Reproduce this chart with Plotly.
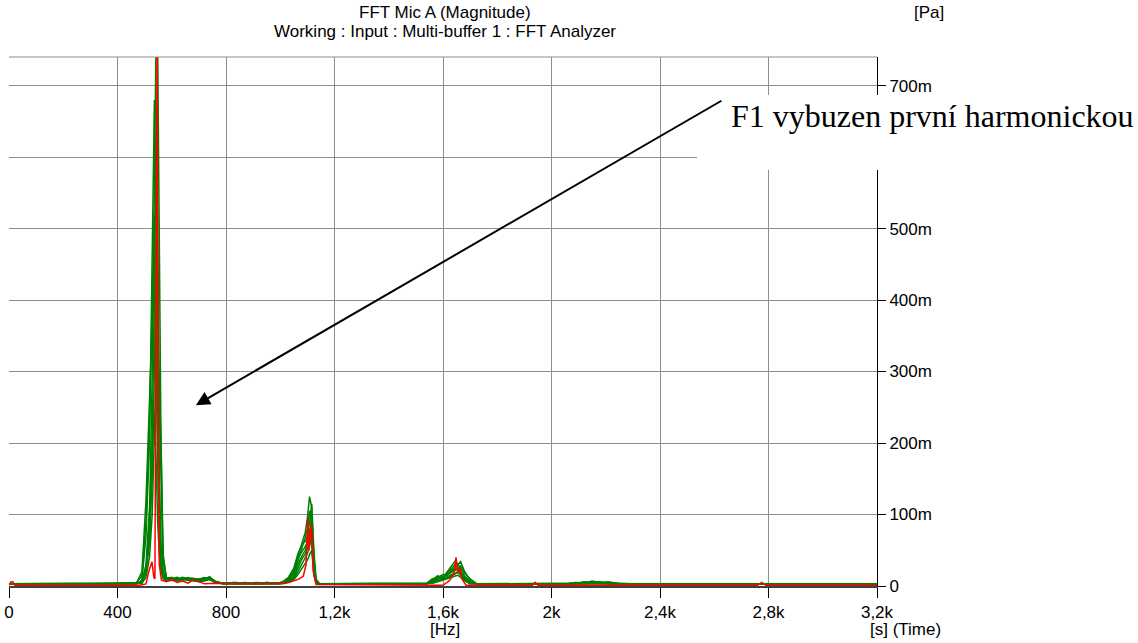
import plotly.graph_objects as go

# ---------------- data (magnitudes in mPa) ----------------
freq_green = [0, 300, 470, 490, 505, 518, 528, 536, 542, 548,
              554, 560, 568, 580, 600, 620, 640, 660, 680, 700,
              720, 740, 760, 790, 830, 870, 910, 950, 990, 1010,
              1030, 1050, 1065, 1080, 1092, 1100, 1108, 1116, 1124, 1132,
              1145, 1200, 1500, 1540, 1560, 1580, 1600, 1615, 1630, 1645,
              1655, 1665, 1680, 1700, 1725, 1800, 2060, 2090, 2120, 2150,
              2180, 2210, 2250, 2300, 2680, 2720, 2760, 2800, 2830, 3200]

green_1 = [3, 3, 3, 4, 20, 90, 300, 600, 760, 760,
           450, 220, 40, 12, 10, 9, 12, 10, 11, 9,
           12, 10, 6, 4, 5, 4, 3, 5, 4, 6,
           10, 22, 40, 60, 75, 95, 125, 110, 40, 8,
           3, 3, 3, 3, 8, 14, 12, 20, 28, 35,
           30, 34, 20, 8, 3, 3, 3, 5, 4, 7,
           5, 6, 3, 3, 3, 4, 3, 4, 3, 3]
green_2 = [3, 3, 3, 8, 70, 200, 440, 680, 560, 300,
           140, 60, 20, 10, 12, 8, 10, 9, 8, 7,
           10, 13, 5, 4, 3, 5, 3, 4, 5, 5,
           9, 18, 35, 52, 68, 80, 105, 90, 30, 6,
           3, 3, 3, 4, 10, 12, 16, 14, 22, 26,
           30, 25, 14, 6, 3, 3, 3, 4, 6, 5,
           6, 4, 3, 3, 3, 3, 4, 3, 3, 3]
green_3 = [3, 3, 3, 8, 25, 70, 200, 420, 600, 520,
           260, 160, 35, 12, 9, 11, 9, 12, 10, 8,
           9, 11, 7, 3, 4, 3, 4, 3, 4, 6,
           12, 25, 45, 58, 62, 70, 90, 115, 50, 10,
           3, 3, 3, 3, 6, 10, 13, 18, 24, 30,
           25, 28, 18, 10, 3, 3, 3, 3, 5, 6,
           4, 5, 4, 3, 3, 3, 3, 3, 3, 3]
green_4 = [3, 3, 5, 14, 90, 230, 400, 520, 430, 200,
           90, 40, 15, 9, 10, 12, 8, 10, 9, 10,
           11, 9, 6, 4, 4, 3, 5, 4, 3, 4,
           8, 20, 38, 48, 55, 62, 80, 70, 22, 5,
           3, 3, 3, 3, 8, 14, 10, 16, 20, 24,
           22, 20, 12, 5, 3, 3, 3, 5, 3, 6,
           5, 3, 3, 3, 3, 3, 3, 3, 3, 3]
green_5 = [3, 3, 3, 5, 18, 60, 150, 300, 460, 380,
           160, 55, 18, 10, 8, 10, 11, 8, 9, 8,
           10, 12, 6, 3, 5, 4, 3, 5, 4, 5,
           7, 15, 30, 42, 50, 58, 72, 100, 35, 6,
           3, 3, 3, 3, 5, 9, 12, 15, 18, 22,
           26, 18, 10, 4, 3, 3, 3, 3, 4, 4,
           5, 4, 3, 3, 3, 3, 3, 3, 3, 3]
green_6 = [3, 3, 4, 20, 120, 260, 370, 420, 300, 150,
           70, 30, 12, 8, 9, 8, 12, 9, 10, 9,
           8, 10, 5, 3, 4, 4, 3, 4, 3, 4,
           6, 12, 25, 38, 45, 52, 65, 58, 18, 4,
           3, 3, 3, 3, 7, 11, 9, 13, 16, 18,
           20, 16, 9, 4, 3, 3, 3, 4, 3, 5,
           4, 3, 3, 3, 3, 3, 3, 3, 3, 3]
green_7 = [3, 3, 3, 4, 12, 40, 100, 200, 300, 340,
           290, 200, 45, 11, 9, 9, 10, 11, 8, 7,
           9, 11, 6, 4, 3, 4, 3, 3, 4, 4,
           6, 10, 20, 30, 38, 45, 55, 75, 28, 5,
           3, 3, 3, 3, 4, 7, 9, 11, 14, 17,
           19, 15, 8, 3, 3, 3, 3, 3, 3, 4,
           3, 4, 3, 3, 3, 3, 3, 3, 3, 3]
green_8 = [3, 3, 3, 6, 30, 110, 200, 240, 180, 90,
           45, 22, 10, 7, 8, 7, 9, 8, 7, 6,
           7, 9, 5, 3, 3, 3, 3, 3, 3, 3,
           5, 9, 16, 24, 30, 36, 44, 50, 15, 4,
           3, 3, 3, 3, 4, 6, 8, 10, 12, 14,
           15, 12, 7, 3, 3, 3, 3, 3, 3, 3,
           3, 3, 3, 3, 3, 3, 3, 3, 3, 3]

freq_red = [0, 8, 14, 22, 30, 480, 505, 515, 527, 534,
            538, 542, 546, 550, 554, 562, 580, 600, 620, 640,
            660, 680, 700, 720, 760, 800, 900, 1000, 1040, 1070,
            1085, 1095, 1102, 1106, 1110, 1115, 1122, 1132, 1600, 1625,
            1640, 1648, 1655, 1662, 1670, 1685, 1930, 1940, 1950, 2760,
            2775, 2790, 3200]
red_mag = [1, 6, 6, 1, 1, 1, 3, 20, 34, 12,
           10, 300, 780, 200, 30, 8, 6, 9, 5, 7,
           4, 9, 6, 3, 4, 3, 3, 3, 6, 10,
           14, 30, 95, 50, 70, 85, 20, 2, 1, 8,
           18, 40, 18, 25, 10, 1, 1, 5, 1, 1,
           5, 1, 1]

x_tick_vals = [0, 400, 800, 1200, 1600, 2000, 2400, 2800, 3200]
x_tick_text = ["0", "400", "800", "1,2k", "1,6k", "2k", "2,4k", "2,8k", "3,2k"]
y_tick_vals = [0, 100, 200, 300, 400, 500, 600, 700]
y_tick_text = ["0", "100m", "200m", "300m", "400m", "500m", "600m", "700m"]

title_text = "FFT Mic A (Magnitude)"
subtitle_text = "Working : Input : Multi-buffer 1 : FFT Analyzer"
note_text = "F1 vybuzen první harmonickou"
arrow_head = (689, 253)
arrow_tail = (2632, 680)

# ---------------- figure ----------------
GREEN = "#008000"
RED = "#ff0000"
GRID = "#8e8e8e"
FONT = "Liberation Sans, Arial, sans-serif"
FS = 17

fig = go.Figure()
for ys in [green_1, green_2, green_3, green_4, green_5, green_6, green_7, green_8]:
    fig.add_trace(go.Scatter(x=freq_green, y=ys, mode="lines",
                             line=dict(color=GREEN, width=1.5),
                             showlegend=False, hoverinfo="skip"))
fig.add_trace(go.Scatter(x=freq_red, y=red_mag, mode="lines",
                         line=dict(color=RED, width=1.5),
                         showlegend=False, hoverinfo="skip"))

fig.update_layout(
    width=1138, height=643,
    margin=dict(l=9, r=261, t=57, b=57, autoexpand=False),
    paper_bgcolor="white", plot_bgcolor="white",
    font=dict(family=FONT, size=FS, color="black"),
    showlegend=False,
)

fig.update_xaxes(
    range=[0, 3200], tickvals=x_tick_vals, ticktext=x_tick_text,
    ticks="outside", ticklen=10, tickcolor="black", tickwidth=1,
    showline=True, linecolor="#404040", linewidth=1.5,
    showgrid=False, zeroline=False, automargin=False,
    minor=dict(tickvals=x_tick_vals[1:-1], showgrid=True, gridcolor=GRID,
               gridwidth=1, ticks=""),
    tickfont=dict(size=FS),
)
fig.update_yaxes(
    range=[0, 740], side="right", tickvals=y_tick_vals, ticktext=y_tick_text,
    ticks="outside", ticklen=8, tickcolor="black", tickwidth=1,
    showline=True, linecolor="black", linewidth=1, automargin=False,
    showgrid=True, gridcolor=GRID, gridwidth=1, zeroline=False,
    tickfont=dict(size=FS),
)

# top frame line
fig.add_shape(type="line", xref="paper", yref="paper", x0=0, x1=1, y0=1, y1=1,
              line=dict(color=GRID, width=1))
# white box behind the note
fig.add_shape(type="rect", xref="paper", yref="paper",
              x0=0.7926, x1=1.31, y0=0.7864, y1=0.9282,
              fillcolor="white", line=dict(width=0), layer="above")


def px_x(px):
    return (px - 9) / 868.0


def px_y(py):
    return (586 - py) / 529.0


fig.add_annotation(xref="paper", yref="paper", x=px_x(729), y=px_y(116),
                   xanchor="left", yanchor="middle", showarrow=False,
                   text=note_text,
                   font=dict(family="Liberation Serif, Times New Roman, serif",
                             size=32, color="black"))
fig.add_annotation(x=arrow_head[0], y=arrow_head[1], ax=arrow_tail[0], ay=arrow_tail[1],
                   xref="x", yref="y", axref="x", ayref="y", text="",
                   showarrow=True, arrowhead=2, arrowsize=1.4, arrowwidth=2,
                   arrowcolor="black")

fig.add_annotation(xref="paper", yref="paper", x=px_x(445), y=px_y(12),
                   text=title_text, showarrow=False, xanchor="center", yanchor="middle")
fig.add_annotation(xref="paper", yref="paper", x=px_x(445), y=px_y(32),
                   text=subtitle_text, showarrow=False, xanchor="center", yanchor="middle")
fig.add_annotation(xref="paper", yref="paper", x=px_x(929), y=px_y(12),
                   text="[Pa]", showarrow=False, xanchor="center", yanchor="middle")
fig.add_annotation(xref="paper", yref="paper", x=px_x(445), y=px_y(629),
                   text="[Hz]", showarrow=False, xanchor="center", yanchor="middle")
fig.add_annotation(xref="paper", yref="paper", x=px_x(868), y=px_y(629),
                   text="[s] (Time)", showarrow=False, xanchor="left", yanchor="middle")

fig.write_html("out.html",
               config={"displayModeBar": False},
               post_script="document.body.style.margin='0';document.body.style.overflow='hidden';")
